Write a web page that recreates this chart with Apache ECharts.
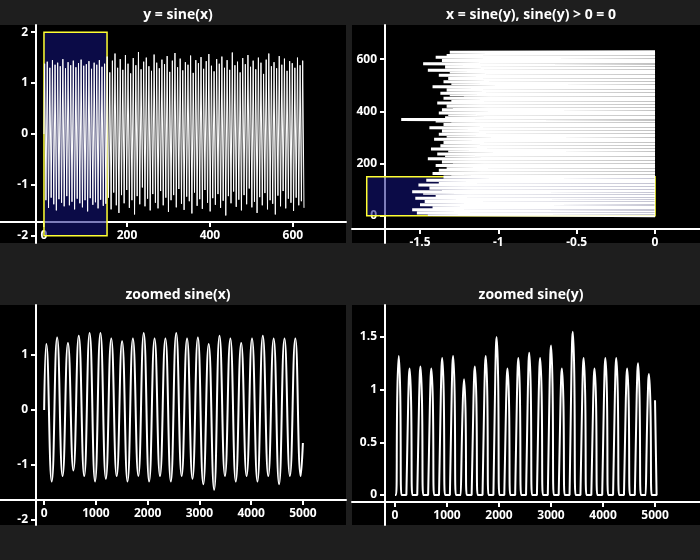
<!DOCTYPE html>
<html><head><meta charset="utf-8">
<script src="https://cdn.jsdelivr.net/npm/echarts@6/dist/echarts.min.js"></script>
<style>html,body{margin:0;background:#1e1e1e}#c{width:700px;height:560px}</style>
</head><body><div id="c"></div>
<script>
// ---- data ----
// top-left: peaks / troughs of noisy sine(x), one per half period
const tlPeaks = [1.38,1.42,1.30,1.45,1.36,1.40,1.33,1.47,1.29,1.41,1.35,1.44,1.31,1.39,1.46,1.34,1.37,1.43,1.28,1.40,1.36,1.45,1.32,1.38,
1.52,1.21,1.44,1.58,1.30,1.47,1.26,1.55,1.38,1.19,1.49,1.35,1.61,1.27,1.42,1.50,1.33,1.24,1.56,1.40,1.29,1.46,1.37,1.53,1.22,1.44,
1.59,1.31,1.48,1.25,1.41,1.36,1.54,1.20,1.45,1.39,1.51,1.28,1.43,1.57,1.34,1.23,1.47,1.38,1.52,1.30,1.45,1.26,1.60,1.35,1.42,
1.21,1.49,1.37,1.55,1.32,1.44,1.27,1.50,1.40,1.18,1.46,1.58,1.33,1.41,1.29,1.53,1.36,1.48,1.24,1.43,1.39,1.30,1.50,1.35,1.44];
const tlTroughs = [-1.30,-1.45,-1.25,-1.38,-1.50,-1.28,-1.35,-1.42,-1.22,-1.40,-1.33,-1.48,-1.27,-1.36,-1.44,-1.30,-1.52,-1.26,-1.39,-1.34,-1.46,-1.29,-1.41,-1.37,
-1.25,-1.48,-1.15,-1.40,-1.55,-1.20,-1.36,-1.10,-1.45,-1.30,-1.58,-1.22,-1.38,-1.05,-1.42,-1.27,-1.50,-1.18,-1.35,-1.46,-1.12,-1.40,-1.25,-1.53,-1.30,-1.20,
-1.44,-1.08,-1.37,-1.49,-1.23,-1.32,-1.56,-1.15,-1.41,-1.28,-1.47,-1.10,-1.35,-1.52,-1.26,-1.39,-1.18,-1.45,-1.31,-1.60,-1.22,-1.36,-1.13,-1.43,-1.29,
-1.50,-1.20,-1.38,-1.07,-1.44,-1.33,-1.55,-1.24,-1.40,-1.16,-1.48,-1.30,-1.37,-1.58,-1.21,-1.42,-1.12,-1.46,-1.27,-1.35,-1.51,-1.25,-1.40,-1.32,-1.45];
// top-right: most negative x of each cycle of x = sine(y) (positive part set to 0)
const trTroughs = [-1.45,-1.52,-1.38,-1.55,-1.42,-1.30,-1.50,-1.35,-1.47,-1.28,-1.53,-1.40,-1.33,-1.48,-1.55,-1.36,-1.44,-1.29,-1.51,-1.38,-1.32,-1.46,-1.25,
-1.35,-1.30,-1.42,-1.27,-1.38,-1.33,-1.24,-1.40,-1.29,-1.36,-1.31,-1.45,-1.26,-1.34,-1.39,-1.28,-1.32,-1.43,-1.25,-1.37,-1.30,-1.35,-1.27,-1.41,-1.29,-1.33,
-1.38,-1.26,-1.36,-1.31,-1.44,-1.28,-1.35,-1.30,-1.40,-1.62,-1.34,-1.27,-1.32,-1.38,-1.25,-1.36,-1.29,-1.33,-1.24,-1.39,-1.30,-1.27,-1.35,-1.22,-1.31,-1.37,
-1.26,-1.33,-1.28,-1.42,-1.25,-1.30,-1.35,-1.23,-1.32,-1.28,-1.38,-1.26,-1.31,-1.45,-1.27,-1.34,-1.29,-1.48,-1.30,-1.36,-1.25,-1.40,-1.33,-1.28,-1.31];
// bottom-left: zoomed sine(x) peaks / troughs (24 cycles over 0..5000)
const blPeaks = [1.20,1.32,1.22,1.35,1.40,1.40,1.30,1.25,1.30,1.40,1.30,1.30,1.40,1.30,1.32,1.20,1.35,1.30,1.22,1.30,1.35,1.30,1.30,1.30];
const blTroughs = [-1.30,-1.20,-1.10,-1.20,-1.30,-1.25,-1.20,-1.30,-1.20,-1.30,-1.20,-1.30,-1.20,-1.25,-1.35,-1.45,-1.20,-1.30,-1.20,-1.30,-1.20,-1.35,-1.20,-1.20];
// bottom-right: zoomed sine(y) pulse heights
const brPeaks = [1.32,1.20,1.22,1.20,1.30,1.32,1.10,1.22,1.32,1.50,1.20,1.30,1.35,1.30,1.42,1.20,1.55,1.30,1.20,1.30,1.30,1.20,1.25,1.15];
const tlXTicks=[0,200,400,600], tlYTicks=[-2,-1,0,1,2];
const trXTicks=[-1.5,-1,-0.5,0], trYTicks=[0,200,400,600];
const blXTicks=[0,1000,2000,3000,4000,5000], blYTicks=[-2,-1,0,1];
const brXTicks=[0,1000,2000,3000,4000,5000], brYTicks=[0,0.5,1,1.5];
const titles=['y = sine(x)','x = sine(y), sine(y) > 0 = 0','zoomed sine(x)','zoomed sine(y)'];

// ---- build series points ----
const HALF=Math.PI;
const tl=[[0,0]];
for(let k=0;k<Math.min(tlPeaks.length,tlTroughs.length);k++){
  tl.push([HALF*(2*k+0.5),tlPeaks[k]]);tl.push([HALF*(2*k+1.5),tlTroughs[k]]);
}
const tr=[[0,0]];
for(let k=0;k<trTroughs.length;k++){
  tr.push([0,HALF*(2*k+1)]);tr.push([trTroughs[k],HALF*(2*k+1.5)]);tr.push([0,HALF*(2*k+2)]);
}
const P=5000/23.9;
const bl=[[0,0]];
for(let k=0;k<blPeaks.length;k++){bl.push([P*(k+0.2),blPeaks[k]]);bl.push([P*(k+0.7),blTroughs[k]]);}
bl.push([5000,-0.6]);
const br=[[0,0]];
for(let k=0;k<brPeaks.length;k++){
  const s=P*k+20;
  br.push([s,0]);br.push([s+P*0.12,brPeaks[k]*0.75]);br.push([s+P*0.25,brPeaks[k]]);br.push([s+P*0.38,brPeaks[k]*0.75]);br.push([s+P*0.5,0]);br.push([s+P*0.95,0]);
}
br.push([5000,0.9]);

const panels=[
 {l:0,t:25,w:346,h:218,xmin:-106,xmax:728,ymin:-2.14,ymax:2.14,xo:-21,yo:-36,xt:tlXTicks,yt:tlYTicks,d:tl,smooth:false,lw:1},
 {l:352,t:25,w:348,h:218,xmin:-1.934,xmax:0.287,ymin:-104,ymax:731,xo:-14,yo:-33,xt:trXTicks,yt:trYTicks,d:tr,smooth:false,lw:3},
 {l:0,t:305,w:346,h:220,xmin:-853,xmax:5833,ymin:-2.09,ymax:1.91,xo:-25,yo:-36,xt:blXTicks,yt:blYTicks,d:bl,smooth:true,lw:2},
 {l:352,t:305,w:348,h:220,xmin:-827,xmax:5865,ymin:-0.285,ymax:1.804,xo:-23,yo:-33,xt:brXTicks,yt:brYTicks,d:br,smooth:true,lw:2}
];
const lab={color:'#fff',fontSize:12,fontFamily:'Open Sans',fontWeight:'bold',formatter:v=>String(v)};
const opt={backgroundColor:'#1e1e1e',animation:false,title:[],grid:[],xAxis:[],yAxis:[],series:[]};
panels.forEach((p,i)=>{
  opt.title.push({text:titles[i],left:p.l+p.w/2,top:p.t-22,textAlign:'center',textStyle:{color:'#fff',fontSize:14,fontWeight:'bold',fontFamily:'Open Sans'}});
  opt.grid.push({left:p.l,top:p.t,width:p.w,height:p.h,show:true,backgroundColor:'#000',borderWidth:0});
  opt.xAxis.push({type:'value',gridIndex:i,min:p.xmin,max:p.xmax,offset:p.xo,splitLine:{show:false},
    axisLine:{onZero:false,lineStyle:{color:'#fff',width:2}},axisTick:{show:true,customValues:p.xt,length:5,lineStyle:{color:'#fff',width:2}},
    axisLabel:Object.assign({customValues:p.xt,showMinLabel:true,showMaxLabel:true},lab)});
  opt.yAxis.push({type:'value',gridIndex:i,min:p.ymin,max:p.ymax,offset:p.yo,splitLine:{show:false},
    axisLine:{onZero:false,lineStyle:{color:'#fff',width:2}},axisTick:{show:true,customValues:p.yt,length:5,lineStyle:{color:'#fff',width:2}},
    axisLabel:Object.assign({customValues:p.yt},lab)});
  opt.series.push({type:'line',xAxisIndex:i,yAxisIndex:i,data:p.d,showSymbol:false,smooth:p.smooth,clip:true,z:2,lineStyle:{color:'#fff',width:p.lw}});
  let area=null;
  if(i===0) area=[[{coord:[0,-2]},{coord:[152,2]}]];
  if(i===1) area=[[{coord:[-1.84,0]},{coord:[0,150]}]];
  if(area) opt.series.push({type:'line',xAxisIndex:i,yAxisIndex:i,data:[],z:5,
    markArea:{silent:true,itemStyle:{color:'rgba(20,20,130,0.55)',borderColor:'#ffff33',borderWidth:1.5},data:area}});
});
const ch=echarts.init(document.getElementById('c'));
ch.setOption(opt);
</script></body></html>
